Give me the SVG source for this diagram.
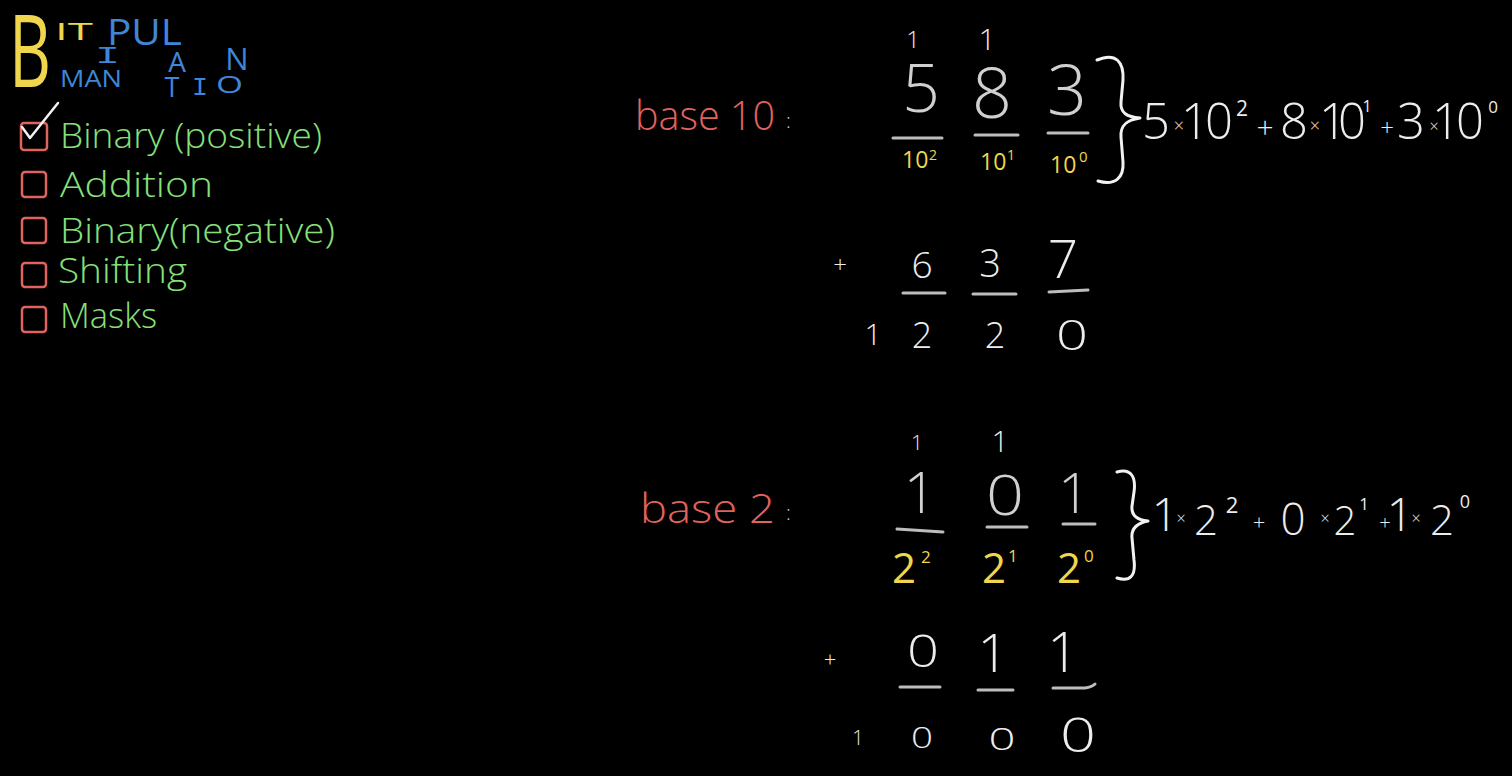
<svg xmlns="http://www.w3.org/2000/svg" width="1512" height="776" viewBox="0 0 1512 776">
<style>
text{font-family:"Open Sans","Liberation Sans",sans-serif;font-weight:300;}
.m{font-family:"Liberation Mono","DejaVu Sans Mono",monospace;font-weight:400;}
.c{text-anchor:middle;}
.y{fill:#efd64c;font-weight:400;}
.b{fill:#3f86d8;font-weight:400;}
.g{fill:#86e07a;}
.r{fill:#e0635e;}
.w{fill:#ececec;}
.gr{fill:#d0d0d0;}
.box{fill:none;stroke:#e0635e;stroke-width:2.5;}
.bar{stroke:#bdbdbd;stroke-width:3;stroke-linecap:round;fill:none;}
.br{fill:none;stroke:#f2f2f2;stroke-width:3;stroke-linecap:round;stroke-linejoin:round;}
</style>
<rect width="1512" height="776" fill="#000"/>

<g id="title">
  <text x="9" y="87" class="y" font-size="100" font-weight="300" textLength="42" lengthAdjust="spacingAndGlyphs">B</text>
  <text x="55" y="40" class="y" font-size="24" textLength="38" lengthAdjust="spacingAndGlyphs">IT</text>
  <text x="107" y="45" class="b" font-size="37" textLength="75" lengthAdjust="spacingAndGlyphs">PUL</text>
  <text x="95" y="63" class="b m" font-size="24" textLength="25" lengthAdjust="spacingAndGlyphs">I</text>
  <text x="177" y="72" class="b c" font-size="28">A</text>
  <text x="237" y="70" class="b c" font-size="31">N</text>
  <text x="60" y="87" class="b" font-size="24" textLength="62" lengthAdjust="spacingAndGlyphs">MAN</text>
  <text x="172" y="97" class="b c" font-size="27">T</text>
  <text x="192" y="95" class="b m" font-size="26" textLength="16" lengthAdjust="spacingAndGlyphs">I</text>
  <text x="216" y="93" class="b" font-size="23" textLength="27" lengthAdjust="spacingAndGlyphs">O</text>
</g>

<g id="checklist">
  <rect class="box" x="21" y="123" width="26" height="27" rx="3"/>
  <path d="M22 127 L30 138 L58 103" fill="none" stroke="#f2f2f2" stroke-width="2.5" stroke-linecap="round" stroke-linejoin="round"/>
  <text x="60" y="148" class="g" font-size="35" textLength="262" lengthAdjust="spacingAndGlyphs">Binary (positive)</text>
  <rect class="box" x="22" y="172" width="24" height="25" rx="3"/>
  <text x="60" y="197" class="g" font-size="35" textLength="153" lengthAdjust="spacingAndGlyphs">Addition</text>
  <rect class="box" x="22" y="218" width="24" height="25" rx="3"/>
  <text x="60" y="243" class="g" font-size="35" textLength="275" lengthAdjust="spacingAndGlyphs">Binary(negative)</text>
  <rect class="box" x="22" y="263" width="24" height="24" rx="3"/>
  <text x="58" y="283" class="g" font-size="35" textLength="129" lengthAdjust="spacingAndGlyphs">Shifting</text>
  <rect class="box" x="22" y="307" width="24" height="25" rx="3"/>
  <text x="60" y="328" class="g" font-size="35" textLength="97" lengthAdjust="spacingAndGlyphs">Masks</text>
</g>

<g id="base10">
  <text x="635" y="130" class="r" font-size="40" textLength="140" lengthAdjust="spacingAndGlyphs">base 10</text>
  <text x="786" y="128" class="gr" font-size="20">:</text>
  <text x="913" y="48" class="w c" font-size="24">1</text>
  <text x="987" y="50" class="w c" font-size="30">1</text>
  <text x="921" y="112" class="gr c" font-size="66">5</text>
  <text x="992" y="118" class="gr c" font-size="70">8</text>
  <text x="1067" y="115" class="gr c" font-size="70">3</text>
  <line class="bar" x1="893" y1="138" x2="942" y2="138"/>
  <line class="bar" x1="975" y1="135" x2="1018" y2="135"/>
  <line class="bar" x1="1048" y1="133" x2="1088" y2="133"/>
  <text class="y" font-size="23"><tspan x="902" y="168">10</tspan><tspan x="929" y="160" font-size="14">2</tspan></text>
  <text class="y" font-size="23"><tspan x="980" y="170">10</tspan><tspan x="1007" y="160" font-size="14">1</tspan></text>
  <text class="y" font-size="23"><tspan x="1050" y="173">10</tspan><tspan x="1079" y="162" font-size="15">0</tspan></text>
  <path class="br" d="M1097 60 C1116 52 1124 62 1123 80 L1121 102 C1120 113 1127 117 1140 118 C1127 120 1120 125 1121 137 L1123 162 C1124 178 1115 186 1098 181"/>
  <text class="w c" font-size="49"><tspan x="1156" y="139">5</tspan><tspan x="1179" y="132" font-size="18">×</tspan><tspan x="1195" y="139">1</tspan><tspan x="1219" y="139">0</tspan><tspan x="1242" y="116" font-size="21" font-weight="400">2</tspan><tspan x="1265" y="138" font-size="30">+</tspan><tspan x="1294" y="139">8</tspan><tspan x="1315" y="132" font-size="18">×</tspan><tspan x="1333" y="139">1</tspan><tspan x="1352" y="139">0</tspan><tspan x="1367" y="112" font-size="16" font-weight="400">1</tspan><tspan x="1387" y="136" font-size="24">+</tspan><tspan x="1411" y="139">3</tspan><tspan x="1434" y="132" font-size="16">×</tspan><tspan x="1446" y="139">1</tspan><tspan x="1470" y="139">0</tspan><tspan x="1493" y="113" font-size="17" font-weight="400">0</tspan></text>
</g>

<g id="sum10">
  <text x="840" y="273" class="w c" font-size="24">+</text>
  <text x="922" y="278" class="w c" font-size="37">6</text>
  <text x="990" y="277" class="w c" font-size="38">3</text>
  <text x="1063" y="278" class="w c" font-size="53">7</text>
  <line class="bar" x1="903" y1="293" x2="945" y2="293"/>
  <line class="bar" x1="973" y1="294" x2="1016" y2="294"/>
  <line class="bar" x1="1049" y1="292" x2="1088" y2="290"/>
  <text x="873" y="345" class="w c" font-size="30">1</text>
  <text x="922" y="348" class="w c" font-size="36">2</text>
  <text x="995" y="348" class="w c" font-size="36">2</text>
  <text x="1072" y="350" class="w c" font-size="42" textLength="32" lengthAdjust="spacingAndGlyphs">0</text>
</g>

<g id="base2">
  <text x="640" y="523" class="r" font-size="40" textLength="135" lengthAdjust="spacingAndGlyphs">base 2</text>
  <text x="786" y="520" class="gr" font-size="20">:</text>
  <text x="917" y="450" class="w c" font-size="21">1</text>
  <text x="1000" y="452" class="w c" font-size="30">1</text>
  <text x="920" y="513" class="gr c" font-size="57">1</text>
  <text x="1005" y="515" class="gr c" font-size="56" textLength="38" lengthAdjust="spacingAndGlyphs">0</text>
  <text x="1074" y="513" class="gr c" font-size="56">1</text>
  <line class="bar" x1="897" y1="529" x2="943" y2="532"/>
  <line class="bar" x1="987" y1="527" x2="1027" y2="527"/>
  <line class="bar" x1="1063" y1="524" x2="1095" y2="524"/>
  <text class="y" font-size="42" font-weight="300"><tspan x="892" y="583">2</tspan><tspan x="921" y="563" font-size="17" font-weight="400">2</tspan></text>
  <text class="y" font-size="42" font-weight="300"><tspan x="982" y="583">2</tspan><tspan x="1008" y="562" font-size="17" font-weight="400">1</tspan></text>
  <text class="y" font-size="42" font-weight="300"><tspan x="1057" y="583">2</tspan><tspan x="1084" y="562" font-size="17" font-weight="400">0</tspan></text>
  <path class="br" d="M1117 472 C1132 468 1136 478 1134 492 L1132 506 C1131 516 1138 520 1148 521 C1138 523 1131 528 1132 538 L1134 560 C1136 576 1130 582 1117 578"/>
  <text class="w c" font-size="42"><tspan x="1165" y="531" font-size="46">1</tspan><tspan x="1181" y="524" font-size="16">×</tspan><tspan x="1206" y="535">2</tspan><tspan x="1232" y="513" font-size="22" font-weight="400">2</tspan><tspan x="1259" y="530" font-size="22">+</tspan><tspan x="1293" y="535" font-size="44">0</tspan><tspan x="1325" y="524" font-size="16">×</tspan><tspan x="1345" y="535" font-size="40">2</tspan><tspan x="1364" y="510" font-size="17" font-weight="400">1</tspan><tspan x="1385" y="530" font-size="20">+</tspan><tspan x="1400" y="531" font-size="46">1</tspan><tspan x="1416" y="524" font-size="16">×</tspan><tspan x="1442" y="535">2</tspan><tspan x="1465" y="508" font-size="18" font-weight="400">0</tspan></text>
</g>

<g id="sum2">
  <text x="830" y="667" class="w c" font-size="22">+</text>
  <text x="923" y="667" class="w c" font-size="45" textLength="32" lengthAdjust="spacingAndGlyphs">0</text>
  <text x="993" y="672" class="w c" font-size="54">1</text>
  <text x="1063" y="672" class="w c" font-size="55">1</text>
  <line class="bar" x1="900" y1="687" x2="940" y2="687"/>
  <line class="bar" x1="978" y1="690" x2="1013" y2="690"/>
  <path class="bar" d="M1053 688 L1085 688 Q1092 687 1095 684"/>
  <text x="858" y="745" class="w c" font-size="20">1</text>
  <text x="922" y="748" class="w c" font-size="29" textLength="22" lengthAdjust="spacingAndGlyphs">0</text>
  <text x="1002" y="750" class="w c" font-size="32" textLength="27" lengthAdjust="spacingAndGlyphs">0</text>
  <text x="1078" y="752" class="w c" font-size="47" textLength="36" lengthAdjust="spacingAndGlyphs">0</text>
</g>
</svg>
